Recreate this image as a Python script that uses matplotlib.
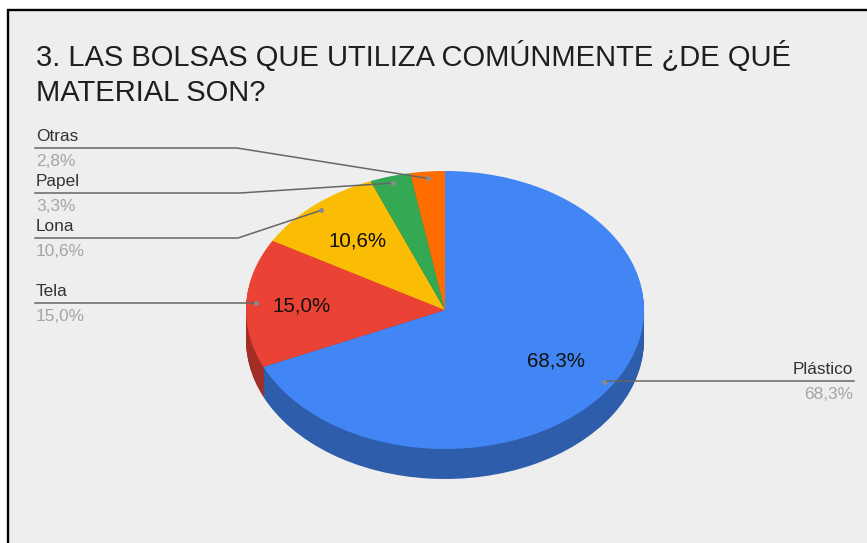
import numpy as np
import matplotlib
matplotlib.use("Agg")
import matplotlib.pyplot as plt
from matplotlib.patches import Rectangle

plt.rcParams['font.family'] = ['Liberation Sans', 'DejaVu Sans']

title_lines = ["3. LAS BOLSAS QUE UTILIZA COMÚNMENTE ¿DE QUÉ", "MATERIAL SON?"]
categories = ["Plástico", "Tela", "Lona", "Papel", "Otras"]
values = [68.3, 15.0, 10.6, 3.3, 2.8]
pct_labels = ["68,3%", "15,0%", "10,6%", "3,3%", "2,8%"]
colors = ["#4285F4", "#EA4335", "#FBBC04", "#34A853", "#FF6D01"]
dark_colors = ["#2E5DAB", "#A32E25", "#AF8303", "#24753A", "#B24C01"]
inside_radius = [0.665, 0.72, 0.67, None, None]

W, H = 867, 543
CX, CY, RX, RY, DEPTH = 445, 310, 199, 139, 30
fig = plt.figure(figsize=(W / 100, H / 100), dpi=100, facecolor="white")


def pixel_axes(z):
    a = fig.add_axes([0, 0, 1, 1], zorder=z)
    a.set_xlim(0, W)
    a.set_ylim(H, 0)
    a.axis("off")
    a.patch.set_alpha(0)
    return a


bg = pixel_axes(0)
bg.add_patch(Rectangle((8, 10), W + 20, H + 20, facecolor="#EEEEEE",
                       edgecolor="black", linewidth=1.7, clip_on=False))

pie_ax = fig.add_axes([(CX - RX) / W, (H - CY - RY) / H, 2 * RX / W, 2 * RY / H], zorder=1)
for off in range(DEPTH, 0, -1):
    w, _ = pie_ax.pie(values, colors=dark_colors, startangle=90, counterclock=False,
                      center=(0, -off / RY), radius=1, frame=False)
    for p in w:
        p.set_clip_on(False)
w, _ = pie_ax.pie(values, colors=colors, startangle=90, counterclock=False,
                  center=(0, 0), radius=1, frame=False)
for p in w:
    p.set_clip_on(False)
pie_ax.set_aspect("auto")
pie_ax.set_xlim(-1, 1)
pie_ax.set_ylim(-1, 1)
pie_ax.axis("off")

top = pixel_axes(2)
for i, line in enumerate(title_lines):
    top.text(36, 66 + 35 * i, line, fontsize=20.95, color="#1E1E1E",
             ha="left", va="baseline")

edges = np.concatenate([[0], np.cumsum(values)]) / np.sum(values) * 2 * np.pi
mids = (edges[:-1] + edges[1:]) / 2
dot_x = CX + 0.95 * RX * np.sin(mids)
dot_y = CY - 0.95 * RY * np.cos(mids)

for m, lab, r in zip(mids, pct_labels, inside_radius):
    if r is not None:
        top.text(CX + r * RX * np.sin(m), CY - r * RY * np.cos(m) + 6.5, lab, fontsize=14.8,
                 color="#111111", ha="center", va="baseline")

label_y = {"Otras": 148, "Papel": 193, "Lona": 238, "Tela": 303, "Plástico": 381}
elbow_x = {"Otras": 237, "Papel": 240, "Lona": 238}
LINE = "#666666"
FS = 12.4
for cat, pct, x, y in zip(categories, pct_labels, dot_x, dot_y):
    ly = label_y[cat]
    if cat == "Plástico":
        top.plot([x, 854], [ly, ly], color=LINE, lw=1.1)
        top.text(853, ly - 7, cat, fontsize=FS, color="#333333", ha="right", va="baseline")
        top.text(853, ly + 18, pct, fontsize=FS, color="#A5A5A5", ha="right", va="baseline")
    else:
        ex = elbow_x.get(cat, x)
        top.plot([35, ex, x], [ly, ly, y if cat != "Tela" else ly], color=LINE, lw=1.1)
        top.text(36, ly - 7, cat, fontsize=FS, color="#333333", ha="left", va="baseline")
        top.text(36, ly + 18, pct, fontsize=FS, color="#A5A5A5", ha="left", va="baseline")
    top.plot([x], [y if cat != "Tela" else ly], "o", color="#8A8A8A", ms=3.6, mew=0)

fig.savefig("out.png", dpi=100, facecolor="white")
